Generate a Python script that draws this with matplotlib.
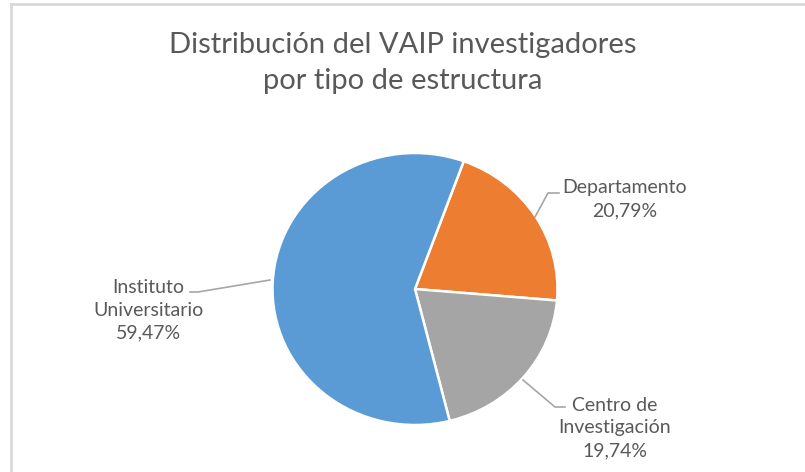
import matplotlib.pyplot as plt
from matplotlib.lines import Line2D

W, H = 805, 472

categorias = ["Departamento", "Centro de\nInvestigación", "Instituto\nUniversitario"]
porcentajes = [20.79, 19.74, 59.47]
colores = ["#ED7D31", "#A5A5A5", "#5B9BD5"]
titulo = "Distribución del VAIP investigadores\npor tipo de estructura"

plt.rcParams['font.family'] = ['Lato', 'DejaVu Sans']
txt_color = "#595959"


def fx(px):
    return px / W


def fy(py):
    return 1 - py / H


fig = plt.figure(figsize=(W / 100, H / 100), dpi=100)

# marco del grafico (solo izquierda y arriba)
fig.add_artist(Line2D([fx(11), fx(11)], [fy(4), 0], color="#d9d9d9", lw=2))
fig.add_artist(Line2D([fx(11), 1], [fy(4), fy(4)], color="#d9d9d9", lw=2))

# pastel: centro (415, 289), radio x 142.5, radio y 136
cx, cy, rx, ry = 415, 289, 142.5, 136
ax = fig.add_axes([fx(cx - rx), fy(cy + ry), 2 * rx / W, 2 * ry / H])
ax.pie(porcentajes, colors=colores, startangle=70, counterclock=False,
       wedgeprops=dict(edgecolor="white", linewidth=1.8))
ax.set_xlim(-1, 1)
ax.set_ylim(-1, 1)
ax.set_aspect('auto')
ax.axis('off')

fig.text(0.5 + 0.5 / W, fy(63), titulo, ha="center", va="center", fontsize=21,
         color=txt_color, linespacing=1.45)

# etiquetas con porcentaje
etiquetas = [f"{c}\n{p:.2f}%".replace(".", ",") for c, p in zip(categorias, porcentajes)]
posiciones = [(625, 199), (615, 428), (148, 310)]
for et, (px, py) in zip(etiquetas, posiciones):
    fig.text(fx(px), fy(py), et, ha="center", va="center", fontsize=14,
             color=txt_color, linespacing=1.42)

# lineas guia
guias = [
    [(535, 217), (548, 193), (559, 193)],
    [(523, 380), (555, 407), (565, 407)],
    [(270, 280), (198, 292), (190, 292)],
]
for g in guias:
    xs = [fx(p[0]) for p in g]
    ys = [fy(p[1]) for p in g]
    fig.add_artist(Line2D(xs, ys, color="#a6a6a6", lw=1.2))

fig.savefig("out.png", dpi=100, facecolor="white")
